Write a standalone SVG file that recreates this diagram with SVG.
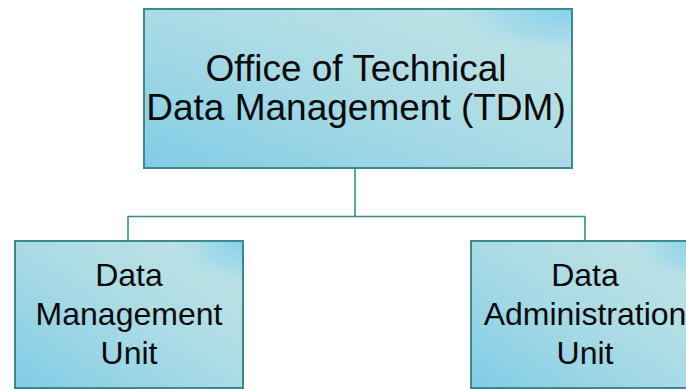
<svg xmlns="http://www.w3.org/2000/svg" width="686" height="389" viewBox="0 0 686 389">
<defs>
<linearGradient id="fill" x1="0" y1="1" x2="1" y2="0">
<stop offset="0" stop-color="#82cce6"/>
<stop offset="0.5" stop-color="#aadbe5"/>
<stop offset="1" stop-color="#c4e5e5"/>
</linearGradient>
<radialGradient id="spot" cx="1" cy="0" r="0.35">
<stop offset="0" stop-color="#86d0ec" stop-opacity="1"/>
<stop offset="0.5" stop-color="#95d5ea" stop-opacity="0.6"/>
<stop offset="1" stop-color="#c4e5e5" stop-opacity="0"/>
</radialGradient>
<style>
.box{fill:url(#fill);stroke:#3a8a8e;stroke-width:2}
.spot{fill:url(#spot);stroke:none}
.conn{fill:none;stroke:#3a8a8e;stroke-width:1.6}
.t{font-family:"Liberation Sans",Arial,sans-serif;fill:#0a0a0a;text-anchor:middle}
.t1{font-size:37px}
.t2{font-size:32px}
</style>
</defs>
<g id="connectors">
<path class="conn" d="M355 168 V216.5 M128 241 V216.5 H585 V241"/>
</g>
<g id="node-tdm">
<rect class="box" x="144" y="9" width="428" height="159"/>
<rect class="spot" x="145" y="10" width="426" height="157"/>
<text class="t t1" x="356" y="81">Office of Technical</text>
<text class="t t1" x="356" y="120">Data Management (TDM)</text>
</g>
<g id="node-dmu">
<rect class="box" x="15" y="241" width="228" height="147"/>
<rect class="spot" x="16" y="242" width="226" height="145"/>
<text class="t t2" x="129" y="286">Data</text>
<text class="t t2" x="129" y="325">Management</text>
<text class="t t2" x="129" y="364">Unit</text>
</g>
<g id="node-dau">
<rect class="box" x="471" y="241" width="228" height="147"/>
<rect class="spot" x="472" y="242" width="226" height="145"/>
<text class="t t2" x="585" y="286">Data</text>
<text class="t t2" x="585" y="325">Administration</text>
<text class="t t2" x="585" y="364">Unit</text>
</g>
</svg>
